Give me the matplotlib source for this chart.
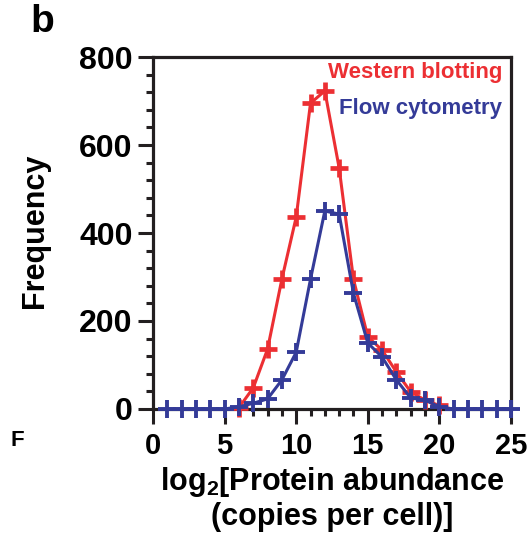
import matplotlib
matplotlib.use("Agg")
import matplotlib.pyplot as plt
from matplotlib.ticker import FixedLocator, MultipleLocator

plt.rcParams["font.family"] = ["Liberation Sans", "DejaVu Sans"]
plt.rcParams["font.weight"] = "bold"
plt.rcParams["mathtext.fontset"] = "custom"
plt.rcParams["mathtext.bf"] = "Liberation Sans:bold"
plt.rcParams["mathtext.rm"] = "Liberation Sans:bold"

# log2 abundance bins and counts
wb_x = [6, 7, 8, 9, 10, 11, 12, 13, 14, 15, 16, 17, 18, 19, 20]
wb_y = [3, 48, 136, 295, 436, 695, 723, 548, 295, 164, 134, 84, 39, 20, 8]

fc_x = [1, 2, 3, 4, 5, 6, 7, 8, 9, 10, 11, 12, 13, 14, 15, 16, 17, 18, 19,
        20, 21, 22, 23, 24, 25]
fc_y = [0, 0, 0, 0, 0, 5, 13, 23, 66, 129, 295, 450, 443, 263, 150, 118,
        66, 25, 20, 5, 0, 0, 0, 0, 0]

red = "#ec2f33"
blue = "#343b98"
ink = "#231f20"

fig = plt.figure(figsize=(5.27, 5.42), dpi=100)
ax = fig.add_axes([0.2903, 0.2454, 0.6793, 0.6494])

ax.plot(wb_x, wb_y, color=red, lw=2.2, marker="+", ms=13, mew=3.4,
        clip_on=False, zorder=3)
ax.plot(fc_x, fc_y, color=blue, lw=2.2, marker="+", ms=13, mew=2.8,
        clip_on=False, zorder=4)

ax.set_xlim(0, 25)
ax.set_ylim(0, 800)
ax.set_xticks([0, 5, 10, 15, 20, 25])
ax.xaxis.set_minor_locator(FixedLocator([7, 8, 9, 11, 12, 13, 14, 16, 17, 18, 19]))
ax.set_yticks([0, 200, 400, 600, 800])
ax.yaxis.set_minor_locator(MultipleLocator(40))

for s in ax.spines.values():
    s.set_linewidth(2.3)
    s.set_color(ink)
ax.tick_params(which="major", direction="out", length=10.5, width=2.2,
               color=ink, labelsize=23, pad=4)
ax.tick_params(which="minor", direction="out", length=5, width=2.2, color=ink)
ax.tick_params(axis="x", which="major", pad=6, labelsize=21)
ax.tick_params(top=False, right=False, which="both")

ax.set_ylabel("Frequency", fontsize=22, fontweight="bold")
ax.yaxis.set_label_coords(-0.288, 0.506)
ax.text(0.5, -0.158, "log$_\\mathbf{2}$[Protein abundance\n(copies per cell)]",
        transform=ax.transAxes, ha="center", va="top", fontsize=22,
        fontweight="bold", linespacing=1.15)

ax.text(0.975, 0.955, "Western blotting", color=red, fontsize=16,
        fontweight="bold", ha="right", va="center", transform=ax.transAxes)
ax.text(0.975, 0.855, "Flow cytometry", color=blue, fontsize=16,
        fontweight="bold", ha="right", va="center", transform=ax.transAxes)

fig.text(0.08, 0.96, "b", fontsize=28, fontweight="bold", ha="center", va="center")
fig.text(0.033, 0.188, "F", fontsize=16, fontweight="bold", ha="center", va="center")

fig.savefig("out.png", dpi=100)
